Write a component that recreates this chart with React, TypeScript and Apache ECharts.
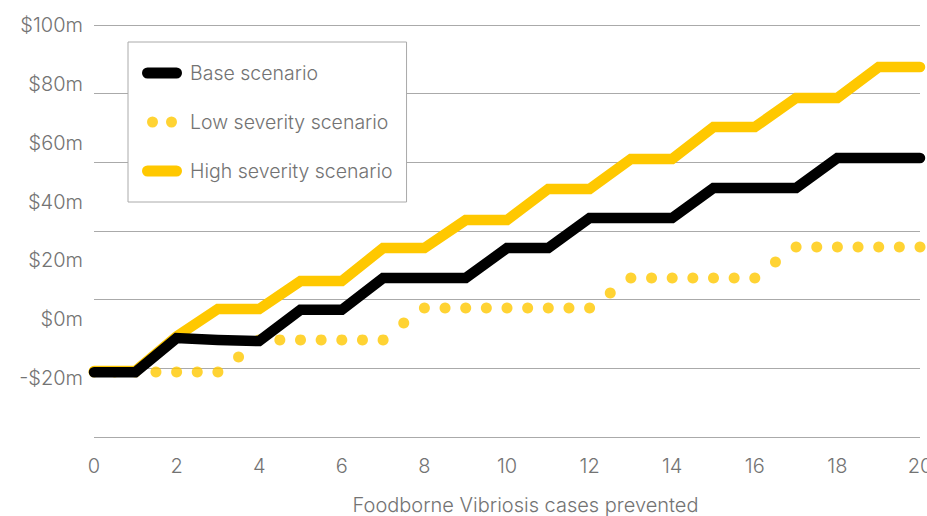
import React, { useEffect, useRef } from "react";
import * as echarts from "echarts";

// x values (cases prevented)
const CASES = [0, 1, 2, 3, 4, 5, 6, 7, 8, 9, 10, 11, 12, 13, 14, 15, 16, 17, 18, 19, 20];
// Base scenario ($m)
const BASE = [-18, -18, -6.4, -7, -7.4, 3.2, 3.2, 14, 14, 14, 24.2, 24.2, 34.4, 34.4, 34.4, 44.6, 44.6, 44.6, 54.8, 54.8, 54.8];
// High severity scenario ($m)
const HIGH = [-17.6, -17.6, -5.8, 3.5, 3.5, 13, 13, 24.2, 24.2, 33.7, 33.7, 44.3, 44.3, 54.5, 54.5, 65.3, 65.3, 75.2, 75.2, 85.7, 85.7];
// Low severity scenario: dots every half case
const LOW_CASES = [
  0, 0.5, 1, 1.5, 2, 2.5, 3, 3.5, 4, 4.5, 5, 5.5, 6, 6.5, 7, 7.5, 8, 8.5, 9, 9.5, 10,
  10.5, 11, 11.5, 12, 12.5, 13, 13.5, 14, 14.5, 15, 15.5, 16, 16.5, 17, 17.5, 18, 18.5, 19, 19.5, 20,
];
const LOW = [
  -17.9, -17.9, -17.9, -17.9, -17.9, -17.9, -17.9, -12.8,
  -7, -7, -7, -7, -7, -7, -7, -1.3,
  3.8, 3.8, 3.8, 3.8, 3.8, 3.8, 3.8, 3.8, 3.8, 8.9,
  14, 14, 14, 14, 14, 14, 14, 19.5,
  24.6, 24.6, 24.6, 24.6, 24.6, 24.6, 24.6,
];
const SERIES_NAMES = ["Base scenario", "Low severity scenario", "High severity scenario"];
const X_TITLE = "Foodborne Vibriosis cases prevented";

const FONT = "Inter";
const WEIGHT = 300;
const GRAY = "#737373";
const YELLOW = "#FFC800";

export default function App() {
  const ref = useRef<HTMLDivElement>(null);
  useEffect(() => {
    if (!ref.current) return;
    const chart = echarts.init(ref.current, undefined, { renderer: "svg" });
    const pill = "path://M5.5,0 L34.5,0 A5.5,5.5 0 0 1 34.5,11 L5.5,11 A5.5,5.5 0 0 1 5.5,0 Z";
    const dots =
      "path://M0,5.5 A5.5,5.5 0 1 0 11,5.5 A5.5,5.5 0 1 0 0,5.5 Z M19,5.5 A5.5,5.5 0 1 0 30,5.5 A5.5,5.5 0 1 0 19,5.5 Z";
    const txt = { color: GRAY, fontSize: 20, fontFamily: FONT, fontWeight: WEIGHT };
    chart.setOption({
      animation: false,
      textStyle: { fontFamily: FONT },
      grid: { left: 94, right: 7, top: 25, bottom: 79, outerBoundsMode: "none", containLabel: false },
      legend: {
        orient: "vertical",
        left: 128,
        top: 42,
        padding: [21, 14, 21, 14],
        itemGap: 29,
        itemWidth: 40,
        itemHeight: 11,
        borderColor: "#aaaaaa",
        borderWidth: 1,
        backgroundColor: "#ffffff",
        itemStyle: { borderWidth: 0 },
        textStyle: { ...txt, fontSize: 19.5, lineHeight: 20, padding: [0, 0, 0, 3] },
        data: [
          { name: SERIES_NAMES[0], icon: pill },
          { name: SERIES_NAMES[1], icon: dots },
          { name: SERIES_NAMES[2], icon: pill },
        ],
      },
      xAxis: {
        type: "value",
        min: 0,
        max: 20,
        interval: 2,
        axisLine: { show: false },
        axisTick: { show: false },
        splitLine: { show: false },
        axisLabel: { ...txt, margin: 19 },
        name: X_TITLE,
        nameLocation: "middle",
        nameGap: 58,
        nameTextStyle: { ...txt, padding: [0, 0, 0, 37] },
      },
      yAxis: [
        {
          type: "value",
          min: -40,
          max: 100,
          interval: 20,
          axisLine: { show: false },
          axisTick: { show: false },
          splitLine: { show: false },
          axisLabel: {
            ...txt,
            margin: 11,
            showMinLabel: false,
            formatter: (v: number) => (v < 0 ? `-$${-v}m` : `$${v}m`),
          },
        },
        {
          type: "value",
          min: 0,
          max: 6,
          interval: 1,
          position: "left",
          axisLine: { show: false },
          axisTick: { show: false },
          axisLabel: { show: false },
          splitLine: { show: true, lineStyle: { color: "#aaaaaa", width: 1.2 } },
        },
      ],
      series: [
        {
          name: SERIES_NAMES[2],
          type: "line",
          yAxisIndex: 0,
          data: CASES.map((x, i) => [x, HIGH[i]]),
          showSymbol: false,
          color: YELLOW,
          lineStyle: { color: YELLOW, width: 10.5, cap: "round", join: "miter" },
        },
        {
          name: SERIES_NAMES[1],
          type: "scatter",
          yAxisIndex: 0,
          data: LOW_CASES.map((x, i) => [x, LOW[i]]),
          symbol: "circle",
          symbolSize: 11,
          color: YELLOW,
          itemStyle: { color: YELLOW },
        },
        {
          name: SERIES_NAMES[0],
          type: "line",
          yAxisIndex: 0,
          data: CASES.map((x, i) => [x, BASE[i]]),
          showSymbol: false,
          color: "#000000",
          lineStyle: { color: "#000000", width: 10.5, cap: "round", join: "miter" },
        },
      ],
    });
    return () => chart.dispose();
  }, []);
  return (
    <div
      ref={ref}
      style={{ position: "fixed", left: 0, top: 0, width: 927, height: 516, background: "#ffffff" }}
    />
  );
}
